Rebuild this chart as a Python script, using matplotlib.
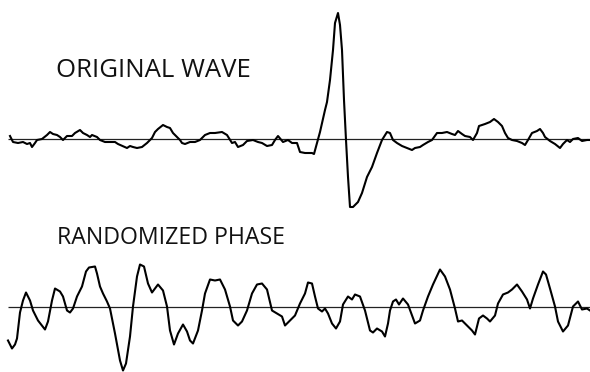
import matplotlib
matplotlib.use("Agg")
import matplotlib.pyplot as plt

# original recording: sample position and amplitude
t_orig = [10, 13, 18, 23, 27, 30, 32, 35, 37, 42, 47, 50, 53, 57, 60, 63, 67, 72, 75, 80,
          83, 87, 90, 92, 97, 100, 105, 110, 115, 118, 127, 130, 133, 137, 142, 147, 152, 155, 158, 163,
          167, 170, 173, 177, 180, 182, 185, 190, 195, 200, 205, 210, 215, 222, 227, 232, 235, 238, 243, 247,
          253, 258, 262, 267, 272, 275, 278, 283, 288, 292, 297, 300, 305, 312, 314, 317, 320, 325, 327, 330,
          333, 335, 338, 340, 342, 344, 346, 348, 350, 353, 358, 362, 367, 372, 377, 382, 387, 390, 393, 397,
          402, 407, 412, 415, 420, 423, 428, 432, 437, 442, 447, 452, 455, 458, 462, 465, 470, 473, 477, 479,
          485, 490, 494, 498, 502, 505, 508, 512, 517, 522, 525, 528, 532, 537, 540, 543, 545, 550, 555, 560,
          563, 567, 570, 573, 578, 582, 587, 590]
a_orig = [3, -3, -4, -3, -5, -4, -8, -4, -1, 0, 4, 7, 5, 4, 2, -1, 3, 3, 6, 9,
          6, 4, 2, 4, 2, -1, -3, -3, -3, -5, -9, -7, -8, -9, -8, -4, 1, 7, 10, 14,
          12, 11, 6, 2, -1, -4, -5, -3, -3, -1, 4, 6, 6, 7, 4, -4, -3, -8, -6, -2,
          -1, -3, -4, -7, -6, -1, 3, -3, -1, -4, -4, -13, -14, -14, -15, -4, 7, 29, 37, 59,
          89, 116, 126, 114, 89, 39, -1, -38, -68, -68, -63, -54, -38, -28, -14, -1, 7, 6, -1, -4,
          -7, -9, -11, -9, -8, -6, -3, -1, 6, 6, 7, 5, 4, 8, 5, 3, 2, -1, 6, 13,
          15, 17, 20, 17, 13, 6, 1, -1, -2, -4, -6, -1, 6, 8, 10, 6, 2, -2, -5, -9,
          -5, -1, -3, 0, 1, -2, -1, -1]

# same spectrum with randomized phases
t_rand = [8, 12, 15, 17, 20, 23, 26, 30, 33, 38, 45, 48, 52, 55, 60, 63, 67, 70, 73, 77,
          82, 86, 89, 95, 97, 100, 103, 107, 110, 115, 120, 123, 126, 130, 133, 137, 140, 144, 148, 152,
          155, 158, 163, 167, 170, 174, 178, 183, 187, 190, 193, 198, 202, 205, 210, 215, 220, 225, 230, 233,
          238, 242, 247, 252, 257, 262, 267, 272, 277, 282, 285, 290, 295, 300, 305, 308, 312, 315, 318, 322,
          325, 328, 332, 336, 340, 343, 348, 352, 355, 360, 365, 370, 373, 377, 382, 385, 388, 390, 393, 396,
          399, 403, 408, 412, 415, 420, 423, 428, 433, 440, 445, 450, 455, 458, 462, 467, 472, 475, 479, 483,
          487, 490, 495, 498, 503, 508, 512, 517, 522, 527, 530, 533, 538, 543, 546, 550, 555, 558, 563, 568,
          573, 578, 582, 587, 590]
a_rand = [-34, -42, -38, -32, -6, 6, 14, 6, -4, -14, -23, -15, 6, 18, 15, 10, -4, -6, -2, 10,
          20, 35, 39, 40, 33, 20, 13, 5, -2, -27, -54, -64, -57, -30, 0, 30, 42, 40, 23, 14,
          18, 22, 16, 0, -24, -38, -27, -18, -25, -34, -37, -24, -4, 13, 27, 26, 27, 17, 0, -14,
          -19, -15, -4, 13, 22, 23, 17, -4, -7, -10, -19, -14, -9, 3, 13, 24, 23, 10, -2, -5,
          -2, -7, -17, -22, -15, 2, 10, 7, 12, 10, -4, -24, -26, -22, -25, -30, -17, -4, 5, 7,
          2, 8, 2, -9, -17, -14, -4, 10, 22, 37, 30, 17, -2, -15, -14, -19, -24, -28, -12, -9,
          -12, -15, -9, 3, 12, 14, 17, 22, 15, 7, -2, 8, 22, 35, 32, 18, 0, -15, -25, -19,
          0, 5, -3, -2, -4]

titles = ["ORIGINAL WAVE", "RANDOMIZED PHASE"]

fig = plt.figure(figsize=(5.9, 3.72), dpi=100)
ax1 = fig.add_axes([0, 1 - 215 / 372, 1, 215 / 372])
ax2 = fig.add_axes([0, 0, 1, 157 / 372])

panels = [(ax1, t_orig, a_orig, titles[0], (-76, 139), 56, 18.5),
          (ax2, t_rand, a_rand, titles[1], (-65.5, 91.5), 57, 16.7)]
for ax, t, a, ttl, lim, tx, fs in panels:
    ax.hlines(0, 8, 590, color="#222222", lw=0.9)
    ax.plot(t, a, color="black", lw=1.5, solid_joinstyle="round")
    ax.text(tx, 62, ttl, fontsize=fs, family="Open Sans",
            va="baseline", ha="left", color="#111111")
    ax.set_xlim(0, 590)
    ax.set_ylim(*lim)
    ax.axis("off")

fig.savefig("out.png", dpi=100, facecolor="white")
